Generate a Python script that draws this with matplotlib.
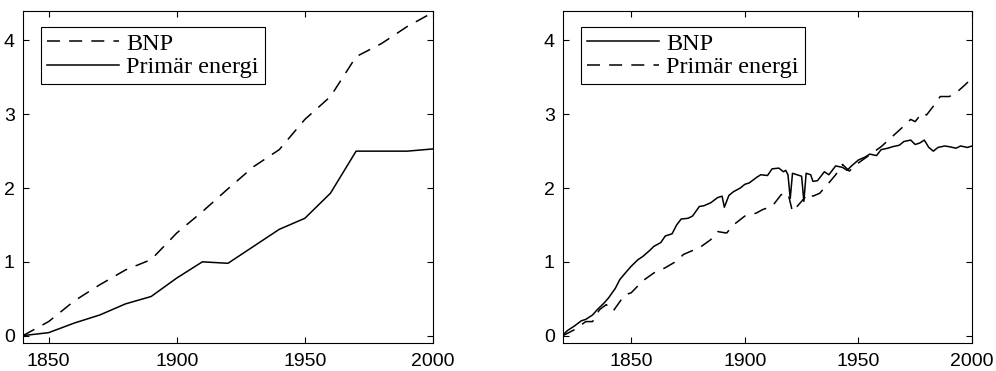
import matplotlib
matplotlib.use("Agg")
import matplotlib.pyplot as plt

# left panel: decade values
yr_left = [1840, 1850, 1860, 1870, 1880, 1890, 1900, 1910, 1920, 1930,
           1940, 1950, 1960, 1970, 1980, 1990, 2000]
bnp_left = [0.0, 0.19, 0.47, 0.69, 0.89, 1.03, 1.39, 1.68, 1.99, 2.29,
            2.52, 2.93, 3.24, 3.78, 3.96, 4.19, 4.38]
energi_left = [0.0, 0.04, 0.17, 0.28, 0.43, 0.53, 0.78, 1.00, 0.98, 1.21,
               1.44, 1.59, 1.93, 2.50, 2.50, 2.50, 2.53]

# right panel: yearly-ish values
yr_bnp_r = [1820, 1822, 1825, 1828, 1830, 1833, 1835, 1838, 1840, 1843, 1845, 1848,
            1850, 1853, 1855, 1858, 1860, 1863, 1865, 1868, 1870, 1872, 1875, 1877,
            1880, 1882, 1885, 1888, 1890, 1891, 1893, 1895, 1898, 1900, 1902, 1905,
            1907, 1910, 1912, 1915, 1917, 1918, 1919, 1920, 1921, 1923, 1925, 1926,
            1927, 1929, 1930, 1932, 1935, 1937, 1940, 1943, 1945, 1947, 1950, 1953,
            1955, 1958, 1960, 1963, 1965, 1968, 1970, 1973, 1975, 1977, 1979, 1981,
            1983, 1985, 1988, 1990, 1993, 1995, 1998, 2000]
bnp_r = [0.01, 0.07, 0.13, 0.20, 0.22, 0.28, 0.35, 0.44, 0.51, 0.64, 0.76, 0.87,
         0.94, 1.03, 1.07, 1.15, 1.21, 1.26, 1.35, 1.38, 1.50, 1.58, 1.59, 1.62,
         1.75, 1.76, 1.80, 1.87, 1.89, 1.74, 1.90, 1.95, 2.00, 2.05, 2.07, 2.14,
         2.18, 2.17, 2.26, 2.27, 2.22, 2.24, 2.18, 1.86, 2.20, 2.18, 2.16, 1.82,
         2.20, 2.18, 2.09, 2.10, 2.22, 2.18, 2.30, 2.28, 2.24, 2.30, 2.38, 2.42,
         2.46, 2.44, 2.52, 2.54, 2.56, 2.58, 2.63, 2.65, 2.59, 2.61, 2.65, 2.55,
         2.50, 2.55, 2.57, 2.56, 2.54, 2.57, 2.55, 2.57]

yr_energi_r = [1820, 1825, 1830, 1833, 1836, 1839, 1842, 1845, 1847, 1850, 1855,
               1860, 1865, 1870, 1873, 1876, 1880, 1885, 1888, 1892, 1895, 1900,
               1905, 1908, 1912, 1916, 1919, 1921, 1925, 1928, 1930, 1933, 1937,
               1940, 1943, 1946, 1950, 1955, 1960, 1965, 1970, 1973, 1975, 1978,
               1980, 1983, 1986, 1990, 1993, 1997, 2000]
energi_r = [0.0, 0.08, 0.19, 0.19, 0.35, 0.42, 0.33, 0.46, 0.55, 0.58, 0.74,
            0.85, 0.92, 1.01, 1.10, 1.14, 1.19, 1.30, 1.41, 1.39, 1.50, 1.62,
            1.66, 1.71, 1.75, 1.91, 1.93, 1.68, 1.82, 1.93, 1.89, 1.93, 2.07,
            2.18, 2.32, 2.23, 2.34, 2.45, 2.56, 2.70, 2.84, 2.93, 2.90, 3.02,
            2.99, 3.11, 3.24, 3.24, 3.29, 3.40, 3.49]

xticks = [1850, 1900, 1950, 2000]
yticks = [0, 1, 2, 3, 4]

plt.rcParams['font.family'] = ['Liberation Sans', 'DejaVu Sans']
fig = plt.figure(figsize=(9.96, 3.71), dpi=100)
ax1 = fig.add_axes([0.0231, 0.0755, 0.4116, 0.895])
ax2 = fig.add_axes([0.5653, 0.0755, 0.4106, 0.895])

dash = (8.5, 6)
lw = 1.1
ax1.plot(yr_left, bnp_left, color='black', lw=lw, dashes=dash, label='BNP')
ax1.plot(yr_left, energi_left, color='black', lw=lw, label='Primär energi')
ax1.set_xlim(1840, 2000)

ax2.plot(yr_bnp_r, bnp_r, color='black', lw=lw, label='BNP')
ax2.plot(yr_energi_r, energi_r, color='black', lw=lw, dashes=dash, label='Primär energi')
ax2.set_xlim(1820, 2000)

for ax in (ax1, ax2):
    ax.set_ylim(-0.1, 4.4)
    ax.set_xticks(xticks)
    ax.set_yticks(yticks)
    ax.tick_params(direction='in', length=4, width=0.8, top=True, right=True,
                   labelsize=14)
    ax.tick_params(axis='x', pad=7)
    ax.tick_params(axis='y', pad=6)
    for s in ax.spines.values():
        s.set_linewidth(0.8)
    leg = ax.legend(loc='upper left', bbox_to_anchor=(0.044, 0.952),
                    borderaxespad=0, fancybox=False, edgecolor='black',
                    framealpha=1, handlelength=2.95, handletextpad=0.3,
                    borderpad=0.25, labelspacing=0.05,
                    prop={'family': 'Liberation Serif', 'size': 17.5})
    leg.get_frame().set_linewidth(0.8)

fig.savefig('out.png', dpi=100)
